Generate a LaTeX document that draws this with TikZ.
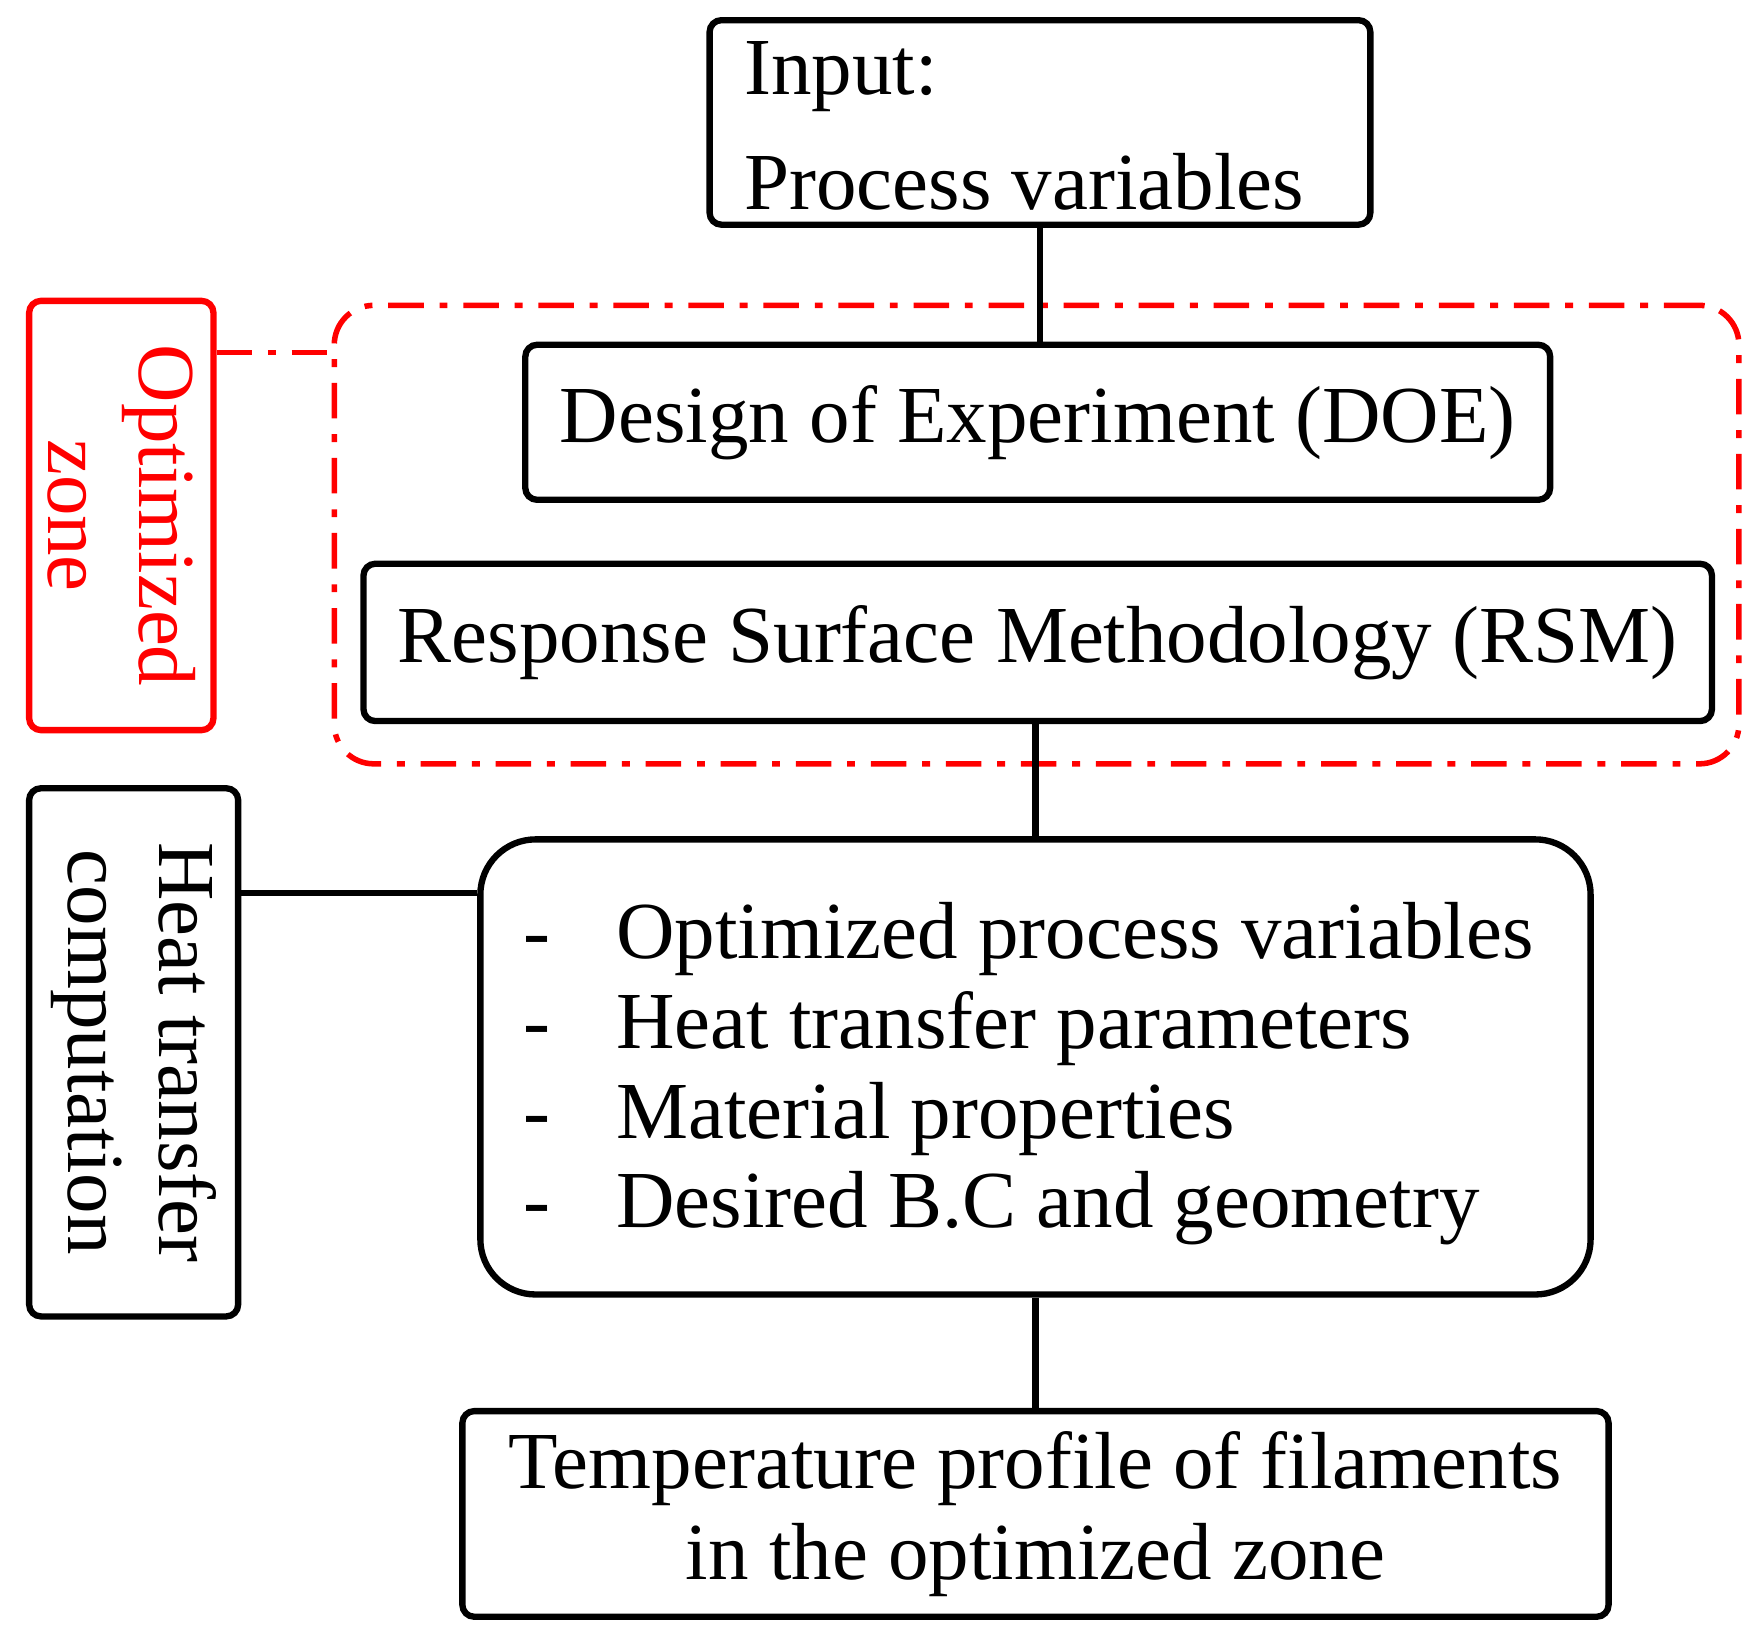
\documentclass[tikz,border=0pt]{standalone}
\usepackage{fontspec}
\setmainfont{Liberation Serif}
\begin{document}
\begin{tikzpicture}[x=0.01cm,y=-0.01cm,
  box/.style={draw,line width=1.6pt,rounded corners=3pt,inner sep=0pt,font=\fontsize{20.5}{23}\selectfont},
  red box/.style={box,draw=red,text=red},
  link/.style={line width=1.6pt},
  rlink/.style={line width=1.4pt,red,dash pattern=on 9pt off 4pt on 2pt off 4pt}]
\useasboundingbox (0,0) rectangle (1560,1457);
\node[red box,rounded corners=10pt,minimum width=12.5cm,minimum height=4.08cm,dash pattern=on 9pt off 4pt on 2pt off 4pt,line width=1.4pt] (zone) at (923,476) {};
\node[box,minimum width=5.88cm,minimum height=1.82cm] (in) at (926,109) {};
\node[anchor=north west,font=\fontsize{20.5}{23}\selectfont,inner sep=0pt,align=left] (intext) at (662,36) {Input:\\[0.22cm]Process variables};
\node[box,minimum width=9.12cm,minimum height=1.38cm] (doe) at (924,376) {Design of Experiment (DOE)};
\node[box,minimum width=12.0cm,minimum height=1.40cm] (rsm) at (924,572) {Response Surface Methodology (RSM)};
\node[box,rounded corners=14pt,minimum width=9.88cm,minimum height=4.05cm] (big) at (922,950) {};
\node[anchor=north west,inner sep=0pt,font=\fontsize{20.5}{22.7}\selectfont,align=left] (items) at (465,803) {%
\makebox[0.83cm][l]{-}Optimized process variables\\
\makebox[0.83cm][l]{-}Heat transfer parameters\\
\makebox[0.83cm][l]{-}Material properties\\
\makebox[0.83cm][l]{-}Desired B.C and geometry};
\node[box,minimum width=10.2cm,minimum height=1.83cm,align=center] (temp) at (922,1348) {Temperature profile of filaments\\in the optimized zone};
\node[box,rotate=-90,minimum width=4.7cm,minimum height=1.86cm,align=center] (heat) at (119,937) {Heat transfer\\computation};
\node[red box,rotate=-90,minimum width=3.82cm,minimum height=1.64cm,align=center] (opt) at (108,459) {Optimized\\zone};
\draw[link] (in.south) -- (in.south |- doe.north);
\draw[link] (big.north) -- (big.north |- rsm.south);
\draw[link] (big.south) -- (big.south |- temp.north);
\draw[link] (heat.north |- 0,795) -- (big.west |- 0,795);
\draw[rlink] (opt.north |- 0,314) -- (zone.west |- 0,314);
\end{tikzpicture}
\end{document}
